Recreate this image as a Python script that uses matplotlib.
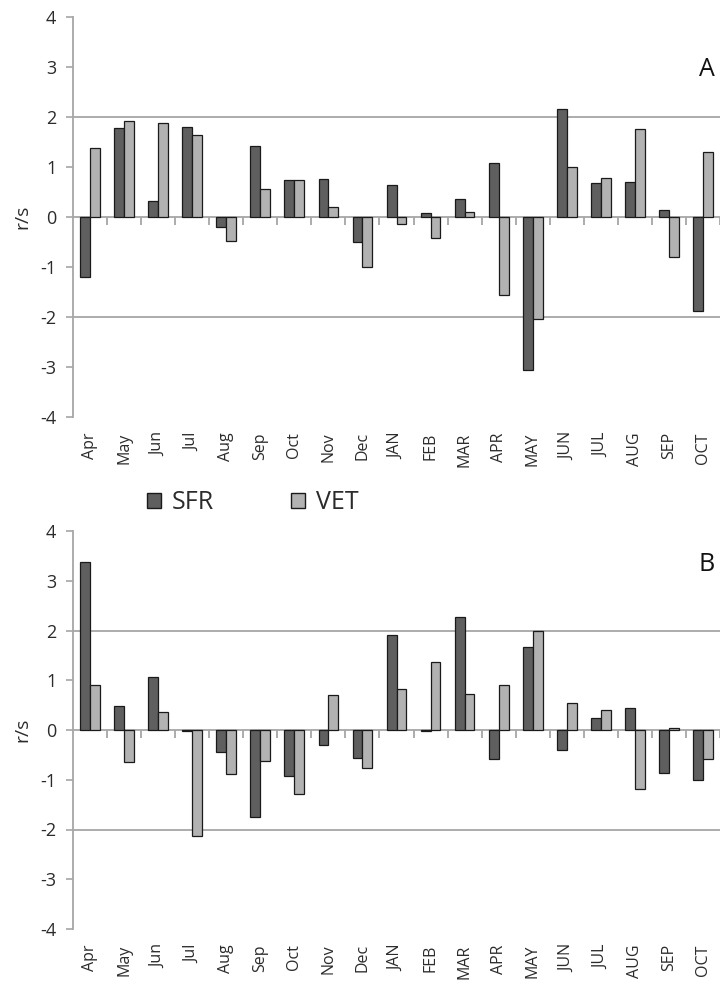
import matplotlib
matplotlib.use('Agg')
import matplotlib.pyplot as plt
import numpy as np
from matplotlib.patches import Patch

plt.rcParams['font.family'] = ['Open Sans', 'DejaVu Sans']
plt.rcParams['axes.unicode_minus'] = False

months = ['Apr', 'May', 'Jun', 'Jul', 'Aug', 'Sep', 'Oct', 'Nov', 'Dec',
          'JAN', 'FEB', 'MAR', 'APR', 'MAY', 'JUN', 'JUL', 'AUG', 'SEP', 'OCT']

# panel A
sfr_a = [-1.19, 1.79, 0.33, 1.81, -0.20, 1.43, 0.75, 0.76, -0.49,
         0.65, 0.09, 0.36, 1.08, -3.06, 2.17, 0.68, 0.70, 0.14, -1.87]
vet_a = [1.38, 1.92, 1.89, 1.65, -0.48, 0.57, 0.75, 0.21, -1.00,
         -0.14, -0.42, 0.11, -1.55, -2.03, 1.01, 0.79, 1.76, -0.79, 1.30]

# panel B
sfr_b = [3.38, 0.48, 1.07, -0.03, -0.44, -1.75, -0.92, -0.31, -0.57,
         1.90, -0.03, 2.28, -0.59, 1.67, -0.41, 0.24, 0.45, -0.87, -1.00]
vet_b = [0.91, -0.65, 0.37, -2.13, -0.89, -0.62, -1.29, 0.70, -0.76,
         0.83, 1.37, 0.73, 0.91, 2.00, 0.54, 0.40, -1.19, 0.05, -0.59]

SFR_COL = '#5f5f5f'
VET_COL = '#b2b2b2'
GRID = '#a6a6a6'
TXT = '#2b2b2b'

W, H = 720, 985
fig = plt.figure(figsize=(W / 100, H / 100), dpi=100)


def px_axes(left, top, right, bottom):
    return fig.add_axes([left / W, 1 - bottom / H, (right - left) / W, (bottom - top) / H])


def panel(ax, sfr, vet, letter, ly):
    x = np.arange(len(months))
    bw = 0.29
    ax.bar(x - bw / 2, sfr, bw, color=SFR_COL, edgecolor='#1a1a1a', linewidth=0.9, zorder=3)
    ax.bar(x + bw / 2, vet, bw, color=VET_COL, edgecolor='#1a1a1a', linewidth=0.9, zorder=3)
    ax.set_xlim(-0.5, len(months) - 0.5)
    ax.set_ylim(-4, 4)
    ax.set_yticks(range(-4, 5))
    for g in (2, -2):
        ax.axhline(g, color=GRID, lw=1.3, zorder=1)
    for s in ('top', 'right', 'bottom'):
        ax.spines[s].set_visible(False)
    ax.spines['left'].set_color(GRID)
    ax.spines['left'].set_linewidth(1.3)
    ax.tick_params(axis='y', direction='out', length=5, width=1.2, color=GRID,
                   labelsize=13, labelcolor=TXT, pad=7)
    ax.set_xticks(x)
    ax.set_xticklabels(months, rotation=90)
    ax.tick_params(axis='x', length=0, labelsize=11.5, labelcolor=TXT, pad=11)
    ax.set_ylabel('r/s', fontsize=14, color=TXT, labelpad=6)
    # zero line with category boundary ticks
    sec = ax.secondary_xaxis(0.5)
    sec.set_xticks(np.arange(len(months)) + 0.5, labels=[])
    sec.xaxis.set_ticks_position('bottom')
    sec.tick_params(direction='out', length=6, width=1.3, color=GRID,
                    labelbottom=False, labeltop=False)
    for s in sec.spines.values():
        s.set_color(GRID)
        s.set_linewidth(1.3)
    ax.text(0.98, ly, letter, transform=ax.transAxes, fontsize=18, color='#111111',
            ha='center', va='center')


ax1 = px_axes(73, 17, 720, 417)
panel(ax1, sfr_a, vet_a, 'A', 0.868)

ax2 = px_axes(73, 531, 720, 929)
panel(ax2, sfr_b, vet_b, 'B', 0.915)

handles = [Patch(facecolor=SFR_COL, edgecolor='#1a1a1a', label='SFR'),
           Patch(facecolor=VET_COL, edgecolor='#1a1a1a', label='VET')]
fig.legend(handles=handles, loc='center', bbox_to_anchor=(0.351, 1 - 503 / H), ncol=2,
           frameon=False, fontsize=18, handlelength=0.56, handleheight=0.56,
           handletextpad=0.44, columnspacing=3.1, labelcolor=TXT)

fig.savefig('out.png', dpi=100)
